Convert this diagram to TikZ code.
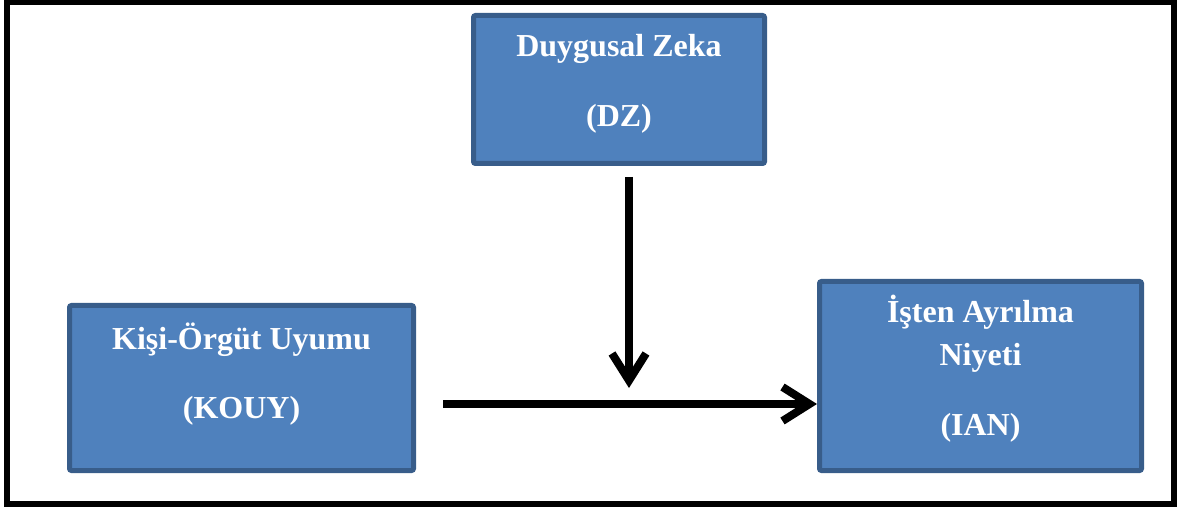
\documentclass[tikz,border=0pt]{standalone}
\usepackage{fontspec}
\setmainfont{Liberation Serif}
\usetikzlibrary{arrows.meta}
\definecolor{boxfill}{HTML}{4F81BD}
\definecolor{boxline}{HTML}{385D8A}
\tikzset{
  conceptbox/.style={draw=boxline, fill=boxfill, line width=5pt, rounded corners=2pt, inner sep=0pt},
  boxtext/.style={text=white, font=\fontsize{32}{36}\selectfont\bfseries, anchor=base, inner sep=0pt},
  arr/.style={line width=8pt, -{Straight Barb[length=27pt,width=34pt]}}
}
\begin{document}
\begin{tikzpicture}[x=1pt,y=-1pt]
\useasboundingbox (0,0) rectangle (1177,510);
\draw[line width=6pt] (7,2) rectangle (1174,504);
% boxes
\node[conceptbox, minimum width=291pt, minimum height=148pt] (dz) at (619,89.5) {};
\node[conceptbox, minimum width=344pt, minimum height=165pt] (kouy) at (241.5,388) {};
\node[conceptbox, minimum width=322pt, minimum height=189pt] (ian) at (980.5,376) {};
% texts
\node[boxtext] (dzt1) at (619,57) {Duygusal Zeka};
\node[boxtext] (dzt2) at (619,127) {(DZ)};
\node[boxtext] (kt1) at (241.5,349) {Kişi-Örgüt Uyumu};
\node[boxtext] (kt2) at (241.5,418) {(KOUY)};
\node[boxtext] (it1) at (980.5,323) {İşten Ayrılma};
\node[boxtext] (it2) at (980.5,365) {Niyeti};
\node[boxtext] (it3) at (980.5,435) {(IAN)};
% connectors
\coordinate (vs) at (629,177);
\coordinate (ve) at (629,388);
\coordinate (hs) at (443,404);
\draw[arr] (vs) -- (ve);
\draw[arr] (hs) -- (ian.west |- hs);
\end{tikzpicture}
\end{document}
